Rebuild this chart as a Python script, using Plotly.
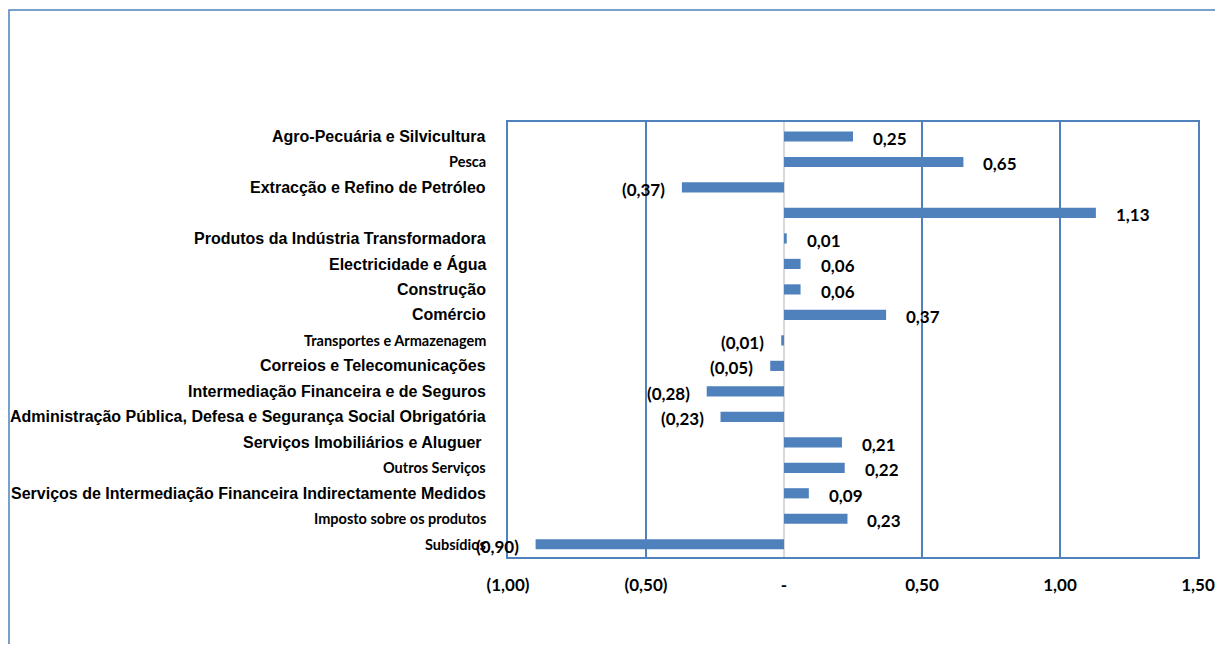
import plotly.graph_objects as go

categories = [
    "Agro-Pecuária e Silvicultura",
    "Pesca",
    "Extracção e Refino de Petróleo",
    " ",
    "Produtos da Indústria Transformadora",
    "Electricidade e Água",
    "Construção",
    "Comércio",
    "Transportes e Armazenagem",
    "Correios e Telecomunicações",
    "Intermediação Financeira e de Seguros",
    "Administração Pública, Defesa e Segurança Social Obrigatória",
    "Serviços Imobiliários e Aluguer ",
    "Outros Serviços",
    "Serviços de Intermediação Financeira Indirectamente Medidos",
    "Imposto sobre os produtos",
    "Subsídios",
]
values = [0.25, 0.65, -0.37, 1.13, 0.01, 0.06, 0.06, 0.37, -0.01, -0.05,
          -0.28, -0.23, 0.21, 0.22, 0.09, 0.23, -0.90]
# label style: True = Arial-like (larger), False = Calibri-like (small)
arial_style = [True, False, True, True, True, True, True, True, False, True,
               True, True, True, False, True, False, False]
tick_vals = [-1.0, -0.5, 0.0, 0.5, 1.0, 1.5]
tick_text = ["(1,00)", "(0,50)", "-", "0,50", "1,00", "1,50"]

BLUE = "#4F81BD"

def fmt(v):
    s = f"{abs(v):.2f}".replace(".", ",")
    return f"({s})" if v < 0 else s

fig = go.Figure()
fig.add_trace(go.Bar(
    x=values, y=categories, orientation="h",
    marker=dict(color=BLUE, line=dict(width=0)),
    width=0.4, hoverinfo="skip",
))

annotations = []
for cat, v, a in zip(categories, values, arial_style):
    annotations.append(dict(
        x=-0.029, xref="paper", y=cat, yref="y", text=f"<b>{cat}</b>",
        showarrow=False, xanchor="right", yanchor="middle",
        font=dict(family="Liberation Sans, Arial", size=16, color="#000") if a
        else dict(family="Lato", size=14.5, color="#000"),
    ))
    annotations.append(dict(
        x=v, xref="x", y=cat, yref="y", text=f"<b>{fmt(v)}</b>",
        showarrow=False, xanchor="left" if v >= 0 else "right",
        xshift=18 if v >= 0 else -15, yshift=-2,
        font=dict(family="Lato", size=17, color="#000"),
    ))

fig.update_layout(
    width=1207, height=636,
    margin=dict(l=500, r=17, t=114, b=87),
    paper_bgcolor="white", plot_bgcolor="white",
    showlegend=False,
    annotations=annotations,
    shapes=[dict(type="rect", xref="paper", yref="paper",
                 x0=-0.7232, x1=1.06, y0=-0.3, y1=1.2575,
                 line=dict(color=BLUE, width=1.5), layer="below")],
    xaxis=dict(range=[-1.0, 1.5], tickvals=tick_vals, ticktext=[f"<b>{t}</b>" for t in tick_text],
               showgrid=True, gridcolor=BLUE, gridwidth=1.5,
               zeroline=True, zerolinecolor="#D9D9D9", zerolinewidth=2,
               showline=True, linecolor=BLUE, linewidth=1.5, mirror=True,
               ticks="", ticklabelstandoff=12, automargin=False,
               tickfont=dict(family="Lato", size=17, color="#000")),
    yaxis=dict(autorange="reversed", showticklabels=False, showgrid=False,
               showline=True, linecolor=BLUE, linewidth=1.5, mirror=True,
               ticks="", automargin=False),
)
fig.write_html("out.html")
